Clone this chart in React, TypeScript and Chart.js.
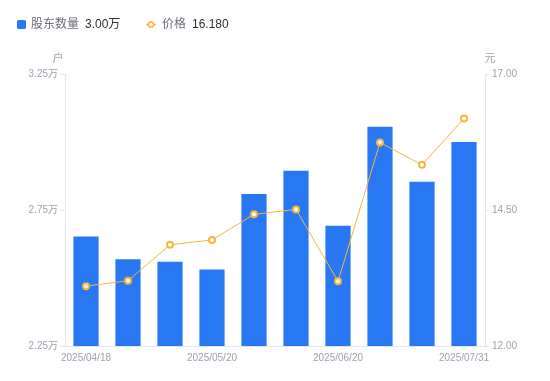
import React, { useEffect, useRef } from "react";
import { Chart, registerables } from "chart.js";

Chart.register(...registerables);

const dates = [
  "2025/04/18", "2025/04/30", "2025/05/09", "2025/05/20", "2025/05/30",
  "2025/06/10", "2025/06/20", "2025/06/30", "2025/07/10", "2025/07/31",
];
const holders = [26530, 25690, 25600, 25310, 28090, 28940, 26920, 30560, 28540, 30000];
const prices = [13.10, 13.20, 13.86, 13.95, 14.42, 14.51, 13.19, 15.74, 15.33, 16.18];
const leftTicks = [22500, 27500, 32500];
const rightTicks = [12, 14.5, 17];

const BLUE = "#2878F3";
const ORANGE = "#F8B43E";
const TICK_COLOR = "#9EA2AE";
const LINE_COLOR = "#E4E6EB";
const FONT = "'Liberation Sans', 'Noto Sans CJK SC', sans-serif";

const overlayPlugin = {
  id: "overlay",
  afterDraw(chart: any) {
    const ctx = chart.ctx as CanvasRenderingContext2D;
    const area = chart.chartArea;
    ctx.save();
    ctx.textBaseline = "middle";
    // legend
    const ly = 24.5;
    ctx.fillStyle = BLUE;
    ctx.beginPath();
    (ctx as any).roundRect ? (ctx as any).roundRect(17, 20, 9, 9, 1.5) : ctx.rect(17, 20, 9, 9);
    ctx.fill();
    ctx.font = `12px ${FONT}`;
    ctx.fillStyle = "#6B6F7A";
    ctx.textAlign = "left";
    ctx.fillText("股东数量", 31, ly + 0.5);
    ctx.fillStyle = "#2B2F36";
    ctx.fillText((holders[holders.length - 1] / 10000).toFixed(2) + "万", 85, ly + 0.5);
    // price icon
    ctx.strokeStyle = ORANGE;
    ctx.lineWidth = 1.5;
    ctx.beginPath();
    ctx.moveTo(146, ly);
    ctx.lineTo(156, ly);
    ctx.stroke();
    ctx.beginPath();
    ctx.arc(151, ly, 2.6, 0, Math.PI * 2);
    ctx.fillStyle = "#fff";
    ctx.fill();
    ctx.stroke();
    ctx.fillStyle = "#6B6F7A";
    ctx.fillText("价格", 162, ly + 0.5);
    ctx.fillStyle = "#2B2F36";
    ctx.fillText(prices[prices.length - 1].toFixed(3), 192, ly + 0.5);
    // unit labels
    ctx.font = `11px ${FONT}`;
    ctx.fillStyle = TICK_COLOR;
    ctx.textAlign = "center";
    ctx.fillText("户", area.left - 7, area.top - 15);
    ctx.fillText("元", area.right + 5, area.top - 15);
    ctx.restore();
  },
};

export default function App() {
  const ref = useRef<HTMLCanvasElement>(null);
  useEffect(() => {
    if (!ref.current) return;
    const chart = new Chart(ref.current, {
      type: "bar",
      data: {
        labels: dates,
        datasets: [
          {
            type: "line",
            label: "价格",
            data: prices,
            yAxisID: "y1",
            borderColor: ORANGE,
            borderWidth: 1,
            pointRadius: 3,
            pointBorderWidth: 2,
            pointBackgroundColor: "#fff",
            pointBorderColor: ORANGE,
            tension: 0,
            order: 0,
          } as any,
          {
            type: "bar",
            label: "股东数量",
            data: holders,
            yAxisID: "y",
            backgroundColor: BLUE,
            barPercentage: 0.6,
            categoryPercentage: 1,
            order: 1,
          },
        ],
      },
      options: {
        animation: false,
        responsive: false,
        maintainAspectRatio: false,
        layout: { padding: { top: 74, left: 0, right: 0, bottom: 0 } },
        plugins: { legend: { display: false }, tooltip: { enabled: false } },
        scales: {
          x: {
            grid: { display: true, drawOnChartArea: false, drawTicks: false },
            border: { display: true, color: LINE_COLOR },
            ticks: {
              autoSkip: false,
              maxRotation: 0,
              padding: 6,
              color: TICK_COLOR,
              font: { size: 10, family: FONT },
              callback: (_v: any, i: number) => (i % 3 === 0 ? dates[i] : ""),
            },
            afterFit: (s: any) => { s.height = 35; },
          },
          y: {
            position: "left",
            min: 22500,
            max: 32500,
            afterBuildTicks: (s: any) => { s.ticks = leftTicks.map((v) => ({ value: v })); },
            grid: { display: true, drawOnChartArea: false, drawTicks: true, tickLength: 4, color: LINE_COLOR },
            border: { display: true, color: LINE_COLOR },
            ticks: {
              padding: 3,
              color: TICK_COLOR,
              font: { size: 10, family: FONT },
              callback: (v: any) => (Number(v) / 10000).toFixed(2) + "万",
            },
            afterFit: (s: any) => { s.width = 65; },
          },
          y1: {
            position: "right",
            min: 12,
            max: 17,
            afterBuildTicks: (s: any) => { s.ticks = rightTicks.map((v) => ({ value: v })); },
            grid: { display: true, drawOnChartArea: false, drawTicks: true, tickLength: 4, color: LINE_COLOR },
            border: { display: true, color: LINE_COLOR },
            ticks: {
              padding: 3,
              color: TICK_COLOR,
              font: { size: 10, family: FONT },
              callback: (v: any) => Number(v).toFixed(2),
            },
            afterFit: (s: any) => { s.width = 65; },
          },
        },
      },
      plugins: [overlayPlugin],
    });
    return () => chart.destroy();
  }, []);
  return (
    <div style={{ position: "absolute", left: 0, top: 0, width: 550, height: 381, background: "#fff" }}>
      <canvas ref={ref} width={550} height={381} style={{ display: "block" }} />
    </div>
  );
}
